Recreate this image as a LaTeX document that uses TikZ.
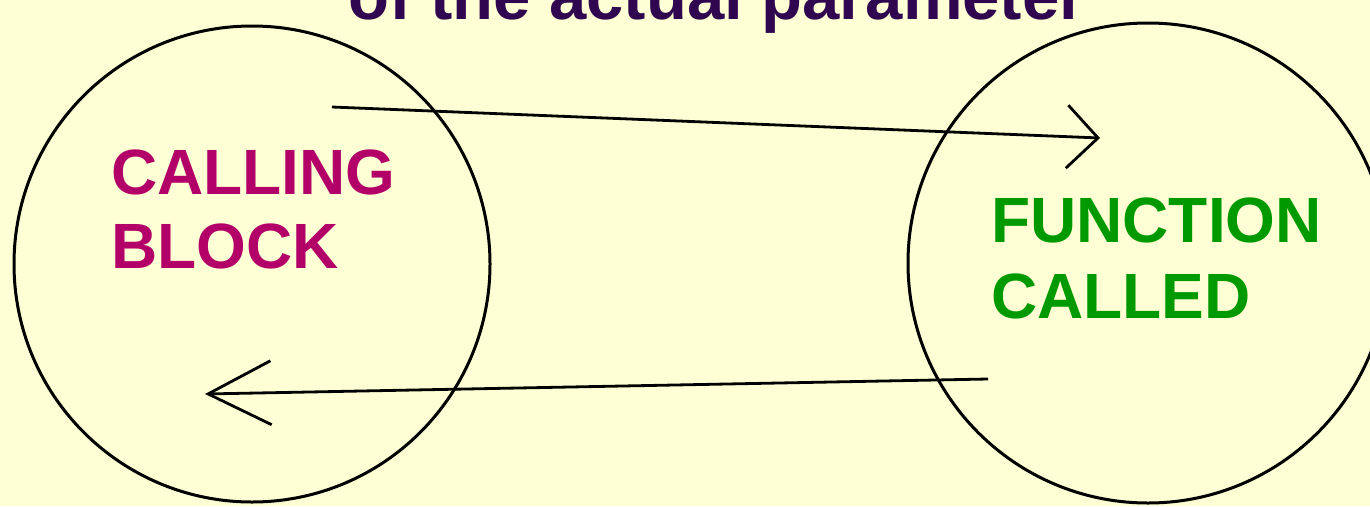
\documentclass[tikz,border=0pt]{standalone}
\usepackage{fontspec}
\setmainfont{Liberation Sans}
\usetikzlibrary{arrows.meta}
\definecolor{bgyellow}{RGB}{255,255,213}
\definecolor{callmag}{RGB}{178,0,104}
\definecolor{funcgreen}{RGB}{0,153,0}
\definecolor{titlepurple}{RGB}{48,6,80}
\tikzset{
  blob/.style={draw=black, line width=3pt},
  biglabel/.style={font=\bfseries\fontsize{64}{74}\selectfont, inner sep=0pt, anchor=base west},
  flow/.style={draw=black, line width=2.8pt},
}
\begin{document}
\begin{tikzpicture}[x=1pt,y=-1pt]
\useasboundingbox (0,0) rectangle (1370,506);
\clip (0,0) rectangle (1370,506);
\fill[bgyellow] (0,0) rectangle (1370,506);
% title (cut off at top, as in the reference)
\node[font=\bfseries\fontsize{67}{76}\selectfont, text=titlepurple, inner sep=0pt, anchor=base] (title) at (717,19) {of the actual parameter};
% circles
\node[blob, circle, minimum size=476pt, inner sep=0pt] (calling) at (252,264) {};
\node[blob, circle, minimum size=480pt, inner sep=0pt] (called) at (1148,263) {};
% labels
\node[biglabel, text=callmag] (cl1) at (111,194) {CALLING};
\node[biglabel, text=callmag] (cl2) at (111,268) {BLOCK};
\node[biglabel, text=funcgreen] (fc1) at (991,242) {FUNCTION};
\node[biglabel, text=funcgreen] (fc2) at (991,318) {CALLED};
% connectors
\coordinate (goS) at (332,107);
\coordinate (goE) at (1100,138);
\coordinate (backS) at (988,379);
\coordinate (backE) at (205,394);
\draw[flow, -{Straight Barb[length=31pt,width=63pt,line width=2.8pt]}] (goS) -- (goE);
\draw[flow, -{Straight Barb[length=63pt,width=64pt,line width=2.8pt]}] (backS) -- (backE);
\end{tikzpicture}
\end{document}
